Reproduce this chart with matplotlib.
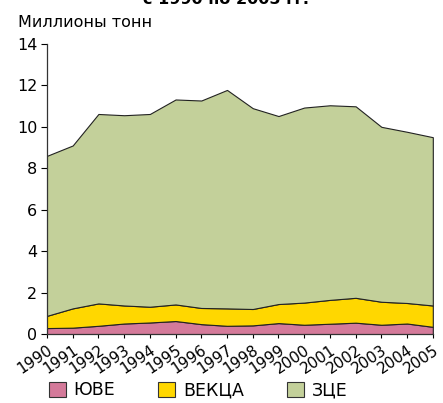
import matplotlib
matplotlib.use("Agg")
import matplotlib.pyplot as plt
from matplotlib.patches import Patch
import numpy as np

# Данные (млн тонн)
years = list(range(1990, 2006))
yuve = [0.29, 0.31, 0.40, 0.51, 0.56, 0.63, 0.48, 0.40, 0.42, 0.53, 0.45, 0.50, 0.55, 0.45, 0.51, 0.35]
vekca_top = [0.88, 1.24, 1.48, 1.38, 1.32, 1.43, 1.26, 1.24, 1.21, 1.45, 1.52, 1.65, 1.75, 1.56, 1.50, 1.38]
total = [8.6, 9.1, 10.62, 10.56, 10.62, 11.32, 11.27, 11.78, 10.9, 10.52, 10.93, 11.04, 10.99, 10.0, 9.76, 9.5]

vekca = [b - a for a, b in zip(yuve, vekca_top)]
zce = [t - b for b, t in zip(vekca_top, total)]

series_names = ["ЮВЕ", "ВЕКЦА", "ЗЦЕ"]
colors = ["#D47A9A", "#FFD700", "#C3D09A"]

plt.rcParams["font.family"] = ["DejaVu Sans"]

fig = plt.figure(figsize=(4.43, 4.03), dpi=100)
ax = fig.add_axes([0.106, 0.171, 0.871, 0.72])

ax.stackplot(years, yuve, vekca, zce, colors=colors,
             edgecolor="#222222", linewidth=0.8)

ax.set_xlim(1990, 2005)
ax.set_ylim(0, 14)
ax.set_yticks(range(0, 15, 2))
ax.set_xticks(years)
ax.set_xticklabels([str(y) for y in years], rotation=34, ha="right",
                   rotation_mode="anchor", fontsize=11)
ax.tick_params(axis="y", labelsize=11.5, length=4, width=0.8, pad=3)
ax.tick_params(axis="x", length=3, width=0.8, pad=3)
for s in ["top", "right"]:
    ax.spines[s].set_visible(False)
for s in ["left", "bottom"]:
    ax.spines[s].set_linewidth(0.9)
    ax.spines[s].set_color("#333333")

fig.text(0.04, 0.945, "Миллионы тонн", fontsize=11.5, va="center", ha="left")
fig.text(0.51, 0.99, "с 1990 по 2005 гг.", fontsize=11.5, fontweight="bold",
         ha="center", va="baseline")

handles = [Patch(facecolor=c, edgecolor="#333333", linewidth=0.8) for c in colors]
fig.legend(handles, series_names, loc="center left", bbox_to_anchor=(0.095, 0.032),
           ncol=3, frameon=False, fontsize=12.5, handlelength=0.95, handleheight=0.95,
           handletextpad=0.45, columnspacing=2.5, borderaxespad=0)

fig.savefig("out.png", dpi=100)
